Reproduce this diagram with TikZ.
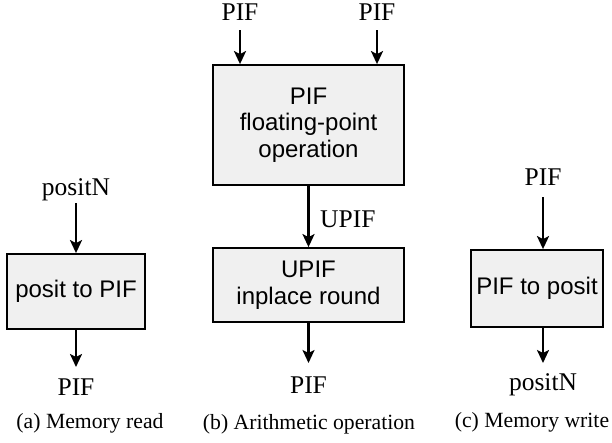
\documentclass[tikz,border=0pt]{standalone}
\usepackage{fontspec}
\setmainfont{Liberation Serif}
\newfontfamily\boxfont{Liberation Sans}
\usetikzlibrary{arrows.meta}
\definecolor{boxfill}{RGB}{240,240,240}
\tikzset{
  blockbox/.style={draw=black, line width=1.8pt, fill=boxfill, inner sep=0pt,
    align=center, font=\boxfont\fontsize{24}{26.5}\selectfont},
  lbl/.style={anchor=base, inner sep=0pt, font=\fontsize{25.5}{28}\selectfont},
  captxt/.style={anchor=base, inner sep=0pt, font=\fontsize{21.7}{24}\selectfont},
  arr/.style={line width=2.4pt, -{Stealth[length=13pt,width=12pt,inset=3pt]}},
}
\begin{document}
\begin{tikzpicture}[x=1pt,y=-1pt]
\useasboundingbox (0,0) rectangle (612,442);

% (a) memory read
\node[blockbox, minimum width=138pt, minimum height=75pt] (boxA) at (76,291.5) {posit to PIF};
\node[lbl] (inA) at (76,195) {positN};
\coordinate (inAs) at (76,203);
\coordinate (outAe) at (76,367);
\node[lbl] (outA) at (76,395) {PIF};
\draw[arr] (inAs) -- (inAs |- boxA.north);
\draw[arr] (boxA.south) -- (outAe);
\node[captxt] (capA) at (90,428) {(a) Memory read};

% (b) arithmetic operation
\node[blockbox, minimum width=191pt, minimum height=120pt] (boxB1) at (308.5,125) {PIF\\floating-point\\operation};
\node[blockbox, minimum width=191pt, minimum height=74pt] (boxB2) at (308.5,285) {UPIF\\inplace round};
\node[lbl] (inB1) at (240,20) {PIF};
\node[lbl] (inB2) at (377,20) {PIF};
\coordinate (inB1s) at (240,30);
\coordinate (inB2s) at (377,30);
\draw[arr] (inB1s) -- (inB1s |- boxB1.north);
\draw[arr] (inB2s) -- (inB2s |- boxB1.north);
\draw[arr] (boxB1.south) -- (boxB2.north);
\node[lbl, anchor=base west] (midB) at (320,227) {UPIF};
\coordinate (outBe) at (308.5,363);
\draw[arr] (boxB2.south) -- (outBe);
\node[lbl] (outB) at (308.5,393) {PIF};
\node[captxt] (capB) at (309,429) {(b) Arithmetic operation};

% (c) memory write
\node[blockbox, minimum width=132pt, minimum height=77pt] (boxC) at (537,288.5) {PIF to posit};
\node[lbl] (inC) at (543,185) {PIF};
\coordinate (inCs) at (543,197);
\draw[arr] (inCs) -- (inCs |- boxC.north);
\coordinate (outCe) at (543,363);
\draw[arr] (outCe |- boxC.south) -- (outCe);
\node[lbl] (outC) at (543,390) {positN};
\node[captxt] (capC) at (532,427) {(c) Memory write};
\end{tikzpicture}
\end{document}
